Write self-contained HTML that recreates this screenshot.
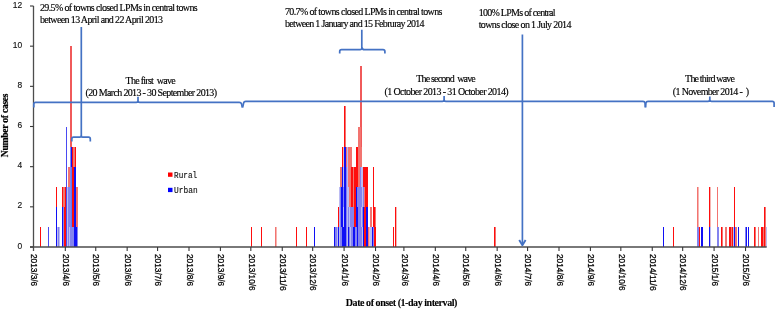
<!DOCTYPE html>
<html><head><meta charset="utf-8"><style>
html,body{margin:0;padding:0;background:#fff;overflow:hidden;}
svg{display:block;will-change:transform;}

</style></head><body>
<svg width="778" height="309" viewBox="0 0 778 309"><g shape-rendering="crispEdges"><rect x="40" y="227" width="1" height="20" fill="#ff0d0d"/><rect x="48" y="227" width="1" height="20" fill="#4a4af2"/><rect x="56" y="207" width="1" height="40" fill="#1010f5"/><rect x="56" y="187" width="1" height="20" fill="#ff0d0d"/><rect x="57" y="227" width="1" height="20" fill="#bcbcf3"/><rect x="58" y="227" width="1" height="20" fill="#8383ee"/><rect x="59" y="227" width="1" height="20" fill="#bcbcf3"/><rect x="62" y="207" width="1" height="40" fill="#1010f5"/><rect x="62" y="187" width="1" height="20" fill="#ff0d0d"/><rect x="63" y="207" width="1" height="40" fill="#8383ee"/><rect x="63" y="187" width="1" height="20" fill="#f27470"/><rect x="64" y="207" width="1" height="40" fill="#ff0d0d"/><rect x="64" y="187" width="1" height="20" fill="#f27470"/><rect x="65" y="187" width="1" height="60" fill="#ff0d0d"/><rect x="66" y="127" width="1" height="120" fill="#4a4af2"/><rect x="67" y="187" width="1" height="60" fill="#bcbcf3"/><rect x="68" y="187" width="1" height="60" fill="#8383ee"/><rect x="68" y="167" width="1" height="20" fill="#f27470"/><rect x="69" y="227" width="1" height="20" fill="#bcbcf3"/><rect x="69" y="187" width="1" height="40" fill="#8383ee"/><rect x="69" y="167" width="1" height="20" fill="#f27470"/><rect x="70" y="147" width="1" height="100" fill="#8383ee"/><rect x="70" y="46" width="1" height="101" fill="#f05a5a"/><rect x="71" y="227" width="1" height="20" fill="#8383ee"/><rect x="71" y="167" width="1" height="60" fill="#5a78f8"/><rect x="71" y="147" width="1" height="20" fill="#1010f5"/><rect x="71" y="46" width="1" height="101" fill="#f05a5a"/><rect x="72" y="227" width="1" height="20" fill="#8383ee"/><rect x="72" y="147" width="1" height="80" fill="#ff0d0d"/><rect x="73" y="227" width="1" height="20" fill="#8383ee"/><rect x="73" y="167" width="1" height="60" fill="#ff0d0d"/><rect x="73" y="147" width="1" height="20" fill="#f27470"/><rect x="74" y="167" width="1" height="80" fill="#1010f5"/><rect x="74" y="147" width="1" height="20" fill="#f27470"/><rect x="75" y="167" width="1" height="80" fill="#1010f5"/><rect x="75" y="147" width="1" height="20" fill="#ff0d0d"/><rect x="76" y="227" width="1" height="20" fill="#1010f5"/><rect x="76" y="187" width="1" height="40" fill="#f27470"/><rect x="77" y="227" width="1" height="20" fill="#8383ee"/><rect x="77" y="187" width="1" height="40" fill="#f27470"/><rect x="251" y="227" width="1" height="20" fill="#ff0d0d"/><rect x="261" y="227" width="1" height="20" fill="#ff0d0d"/><rect x="275" y="227" width="1" height="20" fill="#f27470"/><rect x="276" y="227" width="1" height="20" fill="#f7b4b0"/><rect x="296" y="227" width="1" height="20" fill="#ff0d0d"/><rect x="306" y="227" width="1" height="20" fill="#ff0d0d"/><rect x="314" y="227" width="1" height="20" fill="#1010f5"/><rect x="334" y="227" width="1" height="20" fill="#1010f5"/><rect x="335" y="227" width="1" height="20" fill="#8383ee"/><rect x="336" y="227" width="1" height="20" fill="#8383ee"/><rect x="337" y="227" width="1" height="20" fill="#bcbcf3"/><rect x="338" y="227" width="1" height="20" fill="#1010f5"/><rect x="338" y="207" width="1" height="20" fill="#ff0d0d"/><rect x="339" y="187" width="1" height="60" fill="#bcbcf3"/><rect x="340" y="187" width="1" height="60" fill="#8383ee"/><rect x="340" y="167" width="1" height="20" fill="#f27470"/><rect x="341" y="227" width="1" height="20" fill="#8383ee"/><rect x="341" y="187" width="1" height="40" fill="#1010f5"/><rect x="341" y="167" width="1" height="20" fill="#f27470"/><rect x="342" y="167" width="1" height="80" fill="#1010f5"/><rect x="342" y="147" width="1" height="20" fill="#ff0d0d"/><rect x="343" y="227" width="1" height="20" fill="#1010f5"/><rect x="343" y="207" width="1" height="20" fill="#bcbcf3"/><rect x="343" y="187" width="1" height="20" fill="#8383ee"/><rect x="343" y="167" width="1" height="20" fill="#bcbcf3"/><rect x="343" y="147" width="1" height="20" fill="#f7b4b0"/><rect x="344" y="147" width="1" height="100" fill="#1010f5"/><rect x="344" y="106" width="1" height="41" fill="#ff0d0d"/><rect x="345" y="147" width="1" height="100" fill="#1010f5"/><rect x="345" y="106" width="1" height="41" fill="#f27470"/><rect x="346" y="167" width="1" height="80" fill="#8383ee"/><rect x="346" y="147" width="1" height="20" fill="#f27470"/><rect x="347" y="147" width="1" height="100" fill="#bcbcf3"/><rect x="348" y="227" width="1" height="20" fill="#1010f5"/><rect x="348" y="207" width="1" height="20" fill="#8383ee"/><rect x="348" y="187" width="1" height="20" fill="#bcbcf3"/><rect x="348" y="147" width="1" height="40" fill="#f27470"/><rect x="349" y="227" width="1" height="20" fill="#8383ee"/><rect x="349" y="207" width="1" height="20" fill="#bcbcf3"/><rect x="349" y="147" width="1" height="60" fill="#f27470"/><rect x="350" y="227" width="1" height="20" fill="#bcbcf3"/><rect x="350" y="207" width="1" height="20" fill="#8383ee"/><rect x="350" y="147" width="1" height="60" fill="#f27470"/><rect x="351" y="207" width="1" height="40" fill="#8383ee"/><rect x="351" y="167" width="1" height="40" fill="#ff0d0d"/><rect x="351" y="147" width="1" height="20" fill="#f27470"/><rect x="352" y="207" width="1" height="40" fill="#8383ee"/><rect x="352" y="167" width="1" height="40" fill="#ff0d0d"/><rect x="353" y="227" width="1" height="20" fill="#1010f5"/><rect x="353" y="207" width="1" height="20" fill="#8383ee"/><rect x="353" y="167" width="1" height="40" fill="#f27470"/><rect x="354" y="227" width="1" height="20" fill="#1010f5"/><rect x="354" y="167" width="1" height="60" fill="#ff0d0d"/><rect x="355" y="227" width="1" height="20" fill="#8383ee"/><rect x="355" y="167" width="1" height="60" fill="#ff0d0d"/><rect x="356" y="227" width="1" height="20" fill="#8383ee"/><rect x="356" y="187" width="1" height="40" fill="#1010f5"/><rect x="356" y="147" width="1" height="40" fill="#ff0d0d"/><rect x="357" y="207" width="1" height="40" fill="#1010f5"/><rect x="357" y="187" width="1" height="20" fill="#8383ee"/><rect x="357" y="147" width="1" height="40" fill="#ff0d0d"/><rect x="358" y="187" width="1" height="60" fill="#8383ee"/><rect x="358" y="127" width="1" height="60" fill="#f27470"/><rect x="359" y="187" width="1" height="60" fill="#8383ee"/><rect x="359" y="127" width="1" height="60" fill="#f27470"/><rect x="360" y="167" width="1" height="80" fill="#8383ee"/><rect x="360" y="127" width="1" height="40" fill="#f27470"/><rect x="360" y="66" width="1" height="61" fill="#f05a5a"/><rect x="361" y="227" width="1" height="20" fill="#8383ee"/><rect x="361" y="207" width="1" height="20" fill="#bcbcf3"/><rect x="361" y="187" width="1" height="20" fill="#8383ee"/><rect x="361" y="167" width="1" height="20" fill="#bcbcf3"/><rect x="361" y="147" width="1" height="20" fill="#f27470"/><rect x="361" y="66" width="1" height="81" fill="#f05a5a"/><rect x="362" y="227" width="1" height="20" fill="#bcbcf3"/><rect x="362" y="207" width="1" height="20" fill="#8383ee"/><rect x="362" y="167" width="1" height="40" fill="#bcbcf3"/><rect x="363" y="207" width="1" height="40" fill="#1010f5"/><rect x="363" y="187" width="1" height="20" fill="#8383ee"/><rect x="363" y="167" width="1" height="20" fill="#ff0d0d"/><rect x="364" y="207" width="1" height="40" fill="#ff0d0d"/><rect x="364" y="187" width="1" height="20" fill="#f27470"/><rect x="364" y="167" width="1" height="20" fill="#ff0d0d"/><rect x="365" y="167" width="1" height="80" fill="#ff0d0d"/><rect x="366" y="207" width="1" height="40" fill="#1010f5"/><rect x="366" y="167" width="1" height="40" fill="#ff0d0d"/><rect x="367" y="207" width="1" height="40" fill="#1010f5"/><rect x="367" y="167" width="1" height="40" fill="#ff0d0d"/><rect x="368" y="227" width="1" height="20" fill="#f27470"/><rect x="369" y="227" width="1" height="20" fill="#f7b4b0"/><rect x="370" y="227" width="1" height="20" fill="#bcbcf3"/><rect x="370" y="207" width="1" height="20" fill="#f27470"/><rect x="371" y="227" width="1" height="20" fill="#bcbcf3"/><rect x="371" y="207" width="1" height="20" fill="#f27470"/><rect x="372" y="227" width="1" height="20" fill="#1010f5"/><rect x="373" y="227" width="1" height="20" fill="#8383ee"/><rect x="373" y="167" width="1" height="60" fill="#ff0d0d"/><rect x="374" y="207" width="1" height="40" fill="#ff0d0d"/><rect x="375" y="227" width="1" height="20" fill="#ff0d0d"/><rect x="375" y="207" width="1" height="20" fill="#f27470"/><rect x="393" y="227" width="1" height="20" fill="#ff0d0d"/><rect x="395" y="207" width="1" height="40" fill="#ff0d0d"/><rect x="396" y="207" width="1" height="40" fill="#f7b4b0"/><rect x="494" y="227" width="1" height="20" fill="#ff0d0d"/><rect x="495" y="227" width="1" height="20" fill="#f27470"/><rect x="663" y="227" width="1" height="20" fill="#1010f5"/><rect x="673" y="227" width="1" height="20" fill="#ff0d0d"/><rect x="697" y="227" width="1" height="20" fill="#8383ee"/><rect x="697" y="187" width="1" height="40" fill="#f27470"/><rect x="698" y="227" width="1" height="20" fill="#8383ee"/><rect x="698" y="187" width="1" height="40" fill="#f7b4b0"/><rect x="699" y="227" width="1" height="20" fill="#ff0d0d"/><rect x="701" y="227" width="1" height="20" fill="#1010f5"/><rect x="702" y="227" width="1" height="20" fill="#1010f5"/><rect x="709" y="227" width="1" height="20" fill="#1010f5"/><rect x="709" y="187" width="1" height="40" fill="#ff0d0d"/><rect x="710" y="227" width="1" height="20" fill="#bcbcf3"/><rect x="710" y="187" width="1" height="40" fill="#f7b4b0"/><rect x="717" y="227" width="1" height="20" fill="#8383ee"/><rect x="717" y="187" width="1" height="40" fill="#f27470"/><rect x="718" y="227" width="1" height="20" fill="#8383ee"/><rect x="721" y="227" width="1" height="20" fill="#ff0d0d"/><rect x="722" y="227" width="1" height="20" fill="#f27470"/><rect x="725" y="227" width="1" height="20" fill="#f27470"/><rect x="726" y="227" width="1" height="20" fill="#f27470"/><rect x="729" y="227" width="1" height="20" fill="#ff0d0d"/><rect x="730" y="227" width="1" height="20" fill="#ff0d0d"/><rect x="731" y="227" width="1" height="20" fill="#f27470"/><rect x="732" y="227" width="1" height="20" fill="#ff0d0d"/><rect x="733" y="227" width="1" height="20" fill="#bcbcf3"/><rect x="734" y="227" width="1" height="20" fill="#1010f5"/><rect x="734" y="187" width="1" height="40" fill="#ff0d0d"/><rect x="735" y="227" width="1" height="20" fill="#f27470"/><rect x="736" y="227" width="1" height="20" fill="#f27470"/><rect x="738" y="227" width="1" height="20" fill="#1010f5"/><rect x="745" y="227" width="1" height="20" fill="#8383ee"/><rect x="746" y="227" width="1" height="20" fill="#1010f5"/><rect x="748" y="227" width="1" height="20" fill="#1010f5"/><rect x="754" y="227" width="1" height="20" fill="#ff0d0d"/><rect x="755" y="227" width="1" height="20" fill="#f27470"/><rect x="758" y="227" width="1" height="20" fill="#f27470"/><rect x="761" y="227" width="1" height="20" fill="#ff0d0d"/><rect x="762" y="227" width="1" height="20" fill="#ff0d0d"/><rect x="763" y="227" width="1" height="20" fill="#f27470"/><rect x="764" y="207" width="1" height="40" fill="#ff0d0d"/><rect x="765" y="207" width="1" height="40" fill="#f27470"/><rect x="766" y="227" width="1" height="20" fill="#bcbcf3"/></g>
<g stroke="#4d4d4d" stroke-width="1.3" fill="none">
<line x1="33.5" y1="6" x2="33.5" y2="251"/>
<line x1="30" y1="247" x2="766.7" y2="247" stroke-width="1.6"/>
<line x1="30" y1="247.00" x2="33.5" y2="247.00" stroke="#383838" stroke-width="1.1"/>
<line x1="30" y1="206.83" x2="33.5" y2="206.83" stroke="#383838" stroke-width="1.1"/>
<line x1="30" y1="166.67" x2="33.5" y2="166.67" stroke="#383838" stroke-width="1.1"/>
<line x1="30" y1="126.50" x2="33.5" y2="126.50" stroke="#383838" stroke-width="1.1"/>
<line x1="30" y1="86.34" x2="33.5" y2="86.34" stroke="#383838" stroke-width="1.1"/>
<line x1="30" y1="46.17" x2="33.5" y2="46.17" stroke="#383838" stroke-width="1.1"/>
<line x1="30" y1="6.00" x2="33.5" y2="6.00" stroke="#383838" stroke-width="1.1"/>
<line x1="65.32" y1="247" x2="65.32" y2="251" stroke="#383838" stroke-width="1.1"/>
<line x1="95.74" y1="247" x2="95.74" y2="251" stroke="#383838" stroke-width="1.1"/>
<line x1="127.16" y1="247" x2="127.16" y2="251" stroke="#383838" stroke-width="1.1"/>
<line x1="157.57" y1="247" x2="157.57" y2="251" stroke="#383838" stroke-width="1.1"/>
<line x1="189.00" y1="247" x2="189.00" y2="251" stroke="#383838" stroke-width="1.1"/>
<line x1="220.42" y1="247" x2="220.42" y2="251" stroke="#383838" stroke-width="1.1"/>
<line x1="250.83" y1="247" x2="250.83" y2="251" stroke="#383838" stroke-width="1.1"/>
<line x1="282.26" y1="247" x2="282.26" y2="251" stroke="#383838" stroke-width="1.1"/>
<line x1="312.67" y1="247" x2="312.67" y2="251" stroke="#383838" stroke-width="1.1"/>
<line x1="344.09" y1="247" x2="344.09" y2="251" stroke="#383838" stroke-width="1.1"/>
<line x1="375.52" y1="247" x2="375.52" y2="251" stroke="#383838" stroke-width="1.1"/>
<line x1="403.90" y1="247" x2="403.90" y2="251" stroke="#383838" stroke-width="1.1"/>
<line x1="435.33" y1="247" x2="435.33" y2="251" stroke="#383838" stroke-width="1.1"/>
<line x1="465.74" y1="247" x2="465.74" y2="251" stroke="#383838" stroke-width="1.1"/>
<line x1="497.16" y1="247" x2="497.16" y2="251" stroke="#383838" stroke-width="1.1"/>
<line x1="527.57" y1="247" x2="527.57" y2="251" stroke="#383838" stroke-width="1.1"/>
<line x1="559.00" y1="247" x2="559.00" y2="251" stroke="#383838" stroke-width="1.1"/>
<line x1="590.42" y1="247" x2="590.42" y2="251" stroke="#383838" stroke-width="1.1"/>
<line x1="620.83" y1="247" x2="620.83" y2="251" stroke="#383838" stroke-width="1.1"/>
<line x1="652.26" y1="247" x2="652.26" y2="251" stroke="#383838" stroke-width="1.1"/>
<line x1="682.67" y1="247" x2="682.67" y2="251" stroke="#383838" stroke-width="1.1"/>
<line x1="714.09" y1="247" x2="714.09" y2="251" stroke="#383838" stroke-width="1.1"/>
<line x1="745.52" y1="247" x2="745.52" y2="251" stroke="#383838" stroke-width="1.1"/>
</g>
<g font-family="Liberation Sans, sans-serif" font-size="9" fill="#000" stroke="#000" stroke-width="0.28">
<text transform="translate(31.20,254) rotate(90)" textLength="32.2" lengthAdjust="spacingAndGlyphs">2013/3/6</text>
<text transform="translate(63.02,254) rotate(90)" textLength="32.2" lengthAdjust="spacingAndGlyphs">2013/4/6</text>
<text transform="translate(93.44,254) rotate(90)" textLength="32.2" lengthAdjust="spacingAndGlyphs">2013/5/6</text>
<text transform="translate(124.86,254) rotate(90)" textLength="32.2" lengthAdjust="spacingAndGlyphs">2013/6/6</text>
<text transform="translate(155.27,254) rotate(90)" textLength="32.2" lengthAdjust="spacingAndGlyphs">2013/7/6</text>
<text transform="translate(186.70,254) rotate(90)" textLength="32.2" lengthAdjust="spacingAndGlyphs">2013/8/6</text>
<text transform="translate(218.12,254) rotate(90)" textLength="32.2" lengthAdjust="spacingAndGlyphs">2013/9/6</text>
<text transform="translate(248.53,254) rotate(90)" textLength="36.6" lengthAdjust="spacingAndGlyphs">2013/10/6</text>
<text transform="translate(279.96,254) rotate(90)" textLength="36.6" lengthAdjust="spacingAndGlyphs">2013/11/6</text>
<text transform="translate(310.37,254) rotate(90)" textLength="36.6" lengthAdjust="spacingAndGlyphs">2013/12/6</text>
<text transform="translate(341.79,254) rotate(90)" textLength="32.2" lengthAdjust="spacingAndGlyphs">2014/1/6</text>
<text transform="translate(373.22,254) rotate(90)" textLength="32.2" lengthAdjust="spacingAndGlyphs">2014/2/6</text>
<text transform="translate(401.60,254) rotate(90)" textLength="32.2" lengthAdjust="spacingAndGlyphs">2014/3/6</text>
<text transform="translate(433.03,254) rotate(90)" textLength="32.2" lengthAdjust="spacingAndGlyphs">2014/4/6</text>
<text transform="translate(463.44,254) rotate(90)" textLength="32.2" lengthAdjust="spacingAndGlyphs">2014/5/6</text>
<text transform="translate(494.86,254) rotate(90)" textLength="32.2" lengthAdjust="spacingAndGlyphs">2014/6/6</text>
<text transform="translate(525.27,254) rotate(90)" textLength="32.2" lengthAdjust="spacingAndGlyphs">2014/7/6</text>
<text transform="translate(556.70,254) rotate(90)" textLength="32.2" lengthAdjust="spacingAndGlyphs">2014/8/6</text>
<text transform="translate(588.12,254) rotate(90)" textLength="32.2" lengthAdjust="spacingAndGlyphs">2014/9/6</text>
<text transform="translate(618.53,254) rotate(90)" textLength="36.6" lengthAdjust="spacingAndGlyphs">2014/10/6</text>
<text transform="translate(649.96,254) rotate(90)" textLength="36.6" lengthAdjust="spacingAndGlyphs">2014/11/6</text>
<text transform="translate(680.37,254) rotate(90)" textLength="36.6" lengthAdjust="spacingAndGlyphs">2014/12/6</text>
<text transform="translate(711.79,254) rotate(90)" textLength="32.2" lengthAdjust="spacingAndGlyphs">2015/1/6</text>
<text transform="translate(743.22,254) rotate(90)" textLength="32.2" lengthAdjust="spacingAndGlyphs">2015/2/6</text>
</g>
<g font-family="Liberation Sans, sans-serif" font-size="9.8" fill="#111" stroke="#111" stroke-width="0.15" text-anchor="end">
<text transform="translate(22.2,248.50) scale(0.86,1)">0</text>
<text transform="translate(22.2,208.33) scale(0.86,1)">2</text>
<text transform="translate(22.2,168.17) scale(0.86,1)">4</text>
<text transform="translate(22.2,128.00) scale(0.86,1)">6</text>
<text transform="translate(22.2,87.84) scale(0.86,1)">8</text>
<text transform="translate(22.2,47.67) scale(0.86,1)">10</text>
<text transform="translate(22.2,7.50) scale(0.86,1)">12</text>
</g>
<text font-family="Liberation Serif, serif" font-weight="bold" font-size="10" x="345.8" y="305.7" textLength="111.6" lengthAdjust="spacing" fill="#000" stroke="#000" stroke-width="0.1">Date of onset (1-day interval)</text>
<text font-family="Liberation Serif, serif" font-weight="bold" font-size="9.6" transform="translate(7.6,157.2) rotate(-90)" textLength="63.8" lengthAdjust="spacing" fill="#000" stroke="#000" stroke-width="0.2">Number of cases</text>
<g font-family="Liberation Serif, serif" font-size="10" fill="#000" stroke="#000" stroke-width="0.15">
<text x="40" y="11" textLength="157.7" lengthAdjust="spacing" xml:space="preserve">29.5% of towns closed LPMs in central towns</text>
<text x="40" y="22.7" textLength="123" lengthAdjust="spacing" xml:space="preserve">between 13 April and 22 April 2013</text>
<text x="285" y="15.0" textLength="157.4" lengthAdjust="spacing" xml:space="preserve">70.7% of towns closed LPMs in central towns</text>
<text x="285" y="26.9" textLength="139.6" lengthAdjust="spacing" xml:space="preserve">between 1 January and 15 Februray 2014</text>
<text x="478.7" y="15.7" textLength="76.9" lengthAdjust="spacing" xml:space="preserve">100% LPMs of central</text>
<text x="478.7" y="27.8" textLength="92.7" lengthAdjust="spacing" xml:space="preserve">towns close on 1 July 2014</text>
<text x="125.6" y="83.6" textLength="50" lengthAdjust="spacing" xml:space="preserve">The first  wave</text>
<text x="85.5" y="96.2" textLength="131.5" lengthAdjust="spacing" xml:space="preserve">(20 March 2013 - 30 September 2013)</text>
<text x="416.2" y="82.3" textLength="59.6" lengthAdjust="spacing" xml:space="preserve">The second  wave</text>
<text x="384.5" y="95" textLength="124.1" lengthAdjust="spacing" xml:space="preserve">(1 October 2013 - 31 October 2014)</text>
<text x="685.1" y="82.2" textLength="49.9" lengthAdjust="spacing" xml:space="preserve">The third wave</text>
<text x="672.8" y="94.8" textLength="76.4" lengthAdjust="spacing" xml:space="preserve">(1 November 2014 -  )</text>
</g>
<rect x="168" y="172.5" width="4.5" height="4.3" fill="#ff0000"/>
<rect x="168" y="187.8" width="4.5" height="4.3" fill="#0000ff"/>
<g font-family="Liberation Mono, monospace" font-size="9.5" fill="#111" stroke="#111" stroke-width="0.15">
<text x="174.1" y="178.4" textLength="23" lengthAdjust="spacingAndGlyphs">Rural</text>
<text x="174.1" y="193.4" textLength="23.6" lengthAdjust="spacingAndGlyphs">Urban</text>
</g>
<g stroke="#4472C4" stroke-width="1.7" fill="none" stroke-linecap="butt" stroke-linejoin="round">
<path d="M81.3 27 L81.3 135.5 Q81.3 137.2 80 137.2 L73.5 137.2 Q71.8 137.2 71.8 139 L71.8 141.5"/>
<path d="M81.3 135.5 Q81.3 137.2 82.6 137.2 L88.6 137.2 Q90.3 137.2 90.3 139 L90.3 141.5"/>
<path d="M361.8 29.8 L361.8 47 Q362.2 49.7 360 49.7 L341.5 49.7 Q339.7 49.7 339.7 51.5 L339.7 53.5"/>
<path d="M362 47.5 Q362.4 49.7 364.5 49.7 L383 49.7 Q384.9 49.7 384.9 51.5 L384.9 53.5"/>
<line x1="522.4" y1="34.5" x2="522.4" y2="244"/>
<path d="M519.2 240 L522.4 245.2 L525.6 240" stroke-width="1.9"/>
<path d="M33.8 107.5 L33.8 104 Q33.8 102.3 35.5 102.3 L136.3 102.3 Q138 102.3 138 100.5 L138 96.8 M138 100.5 Q138 102.3 139.7 102.3 L239.3 102.3 Q241 102.3 241.6 104 L242.3 107.5"/>
<path d="M242.6 107.5 L243.6 103 Q244 101.3 245.7 101.3 L442.4 101.3 Q444.1 101.3 444.1 99.5 L444.1 96 M444.1 99.5 Q444.1 101.3 445.8 101.3 L643 101.3 Q644.7 101.3 645 103 L645.3 107.4"/>
<path d="M645.6 107.4 L645.9 103 Q646.2 101.3 648 101.3 L708 101.3 Q709.8 101.3 709.8 99.5 L709.8 96.6 M709.8 99.5 Q709.8 101.3 711.6 101.3 L772.3 101.3 Q774.1 101.3 774.1 103 L774.1 107.1"/>
</g></svg>
</body></html>
